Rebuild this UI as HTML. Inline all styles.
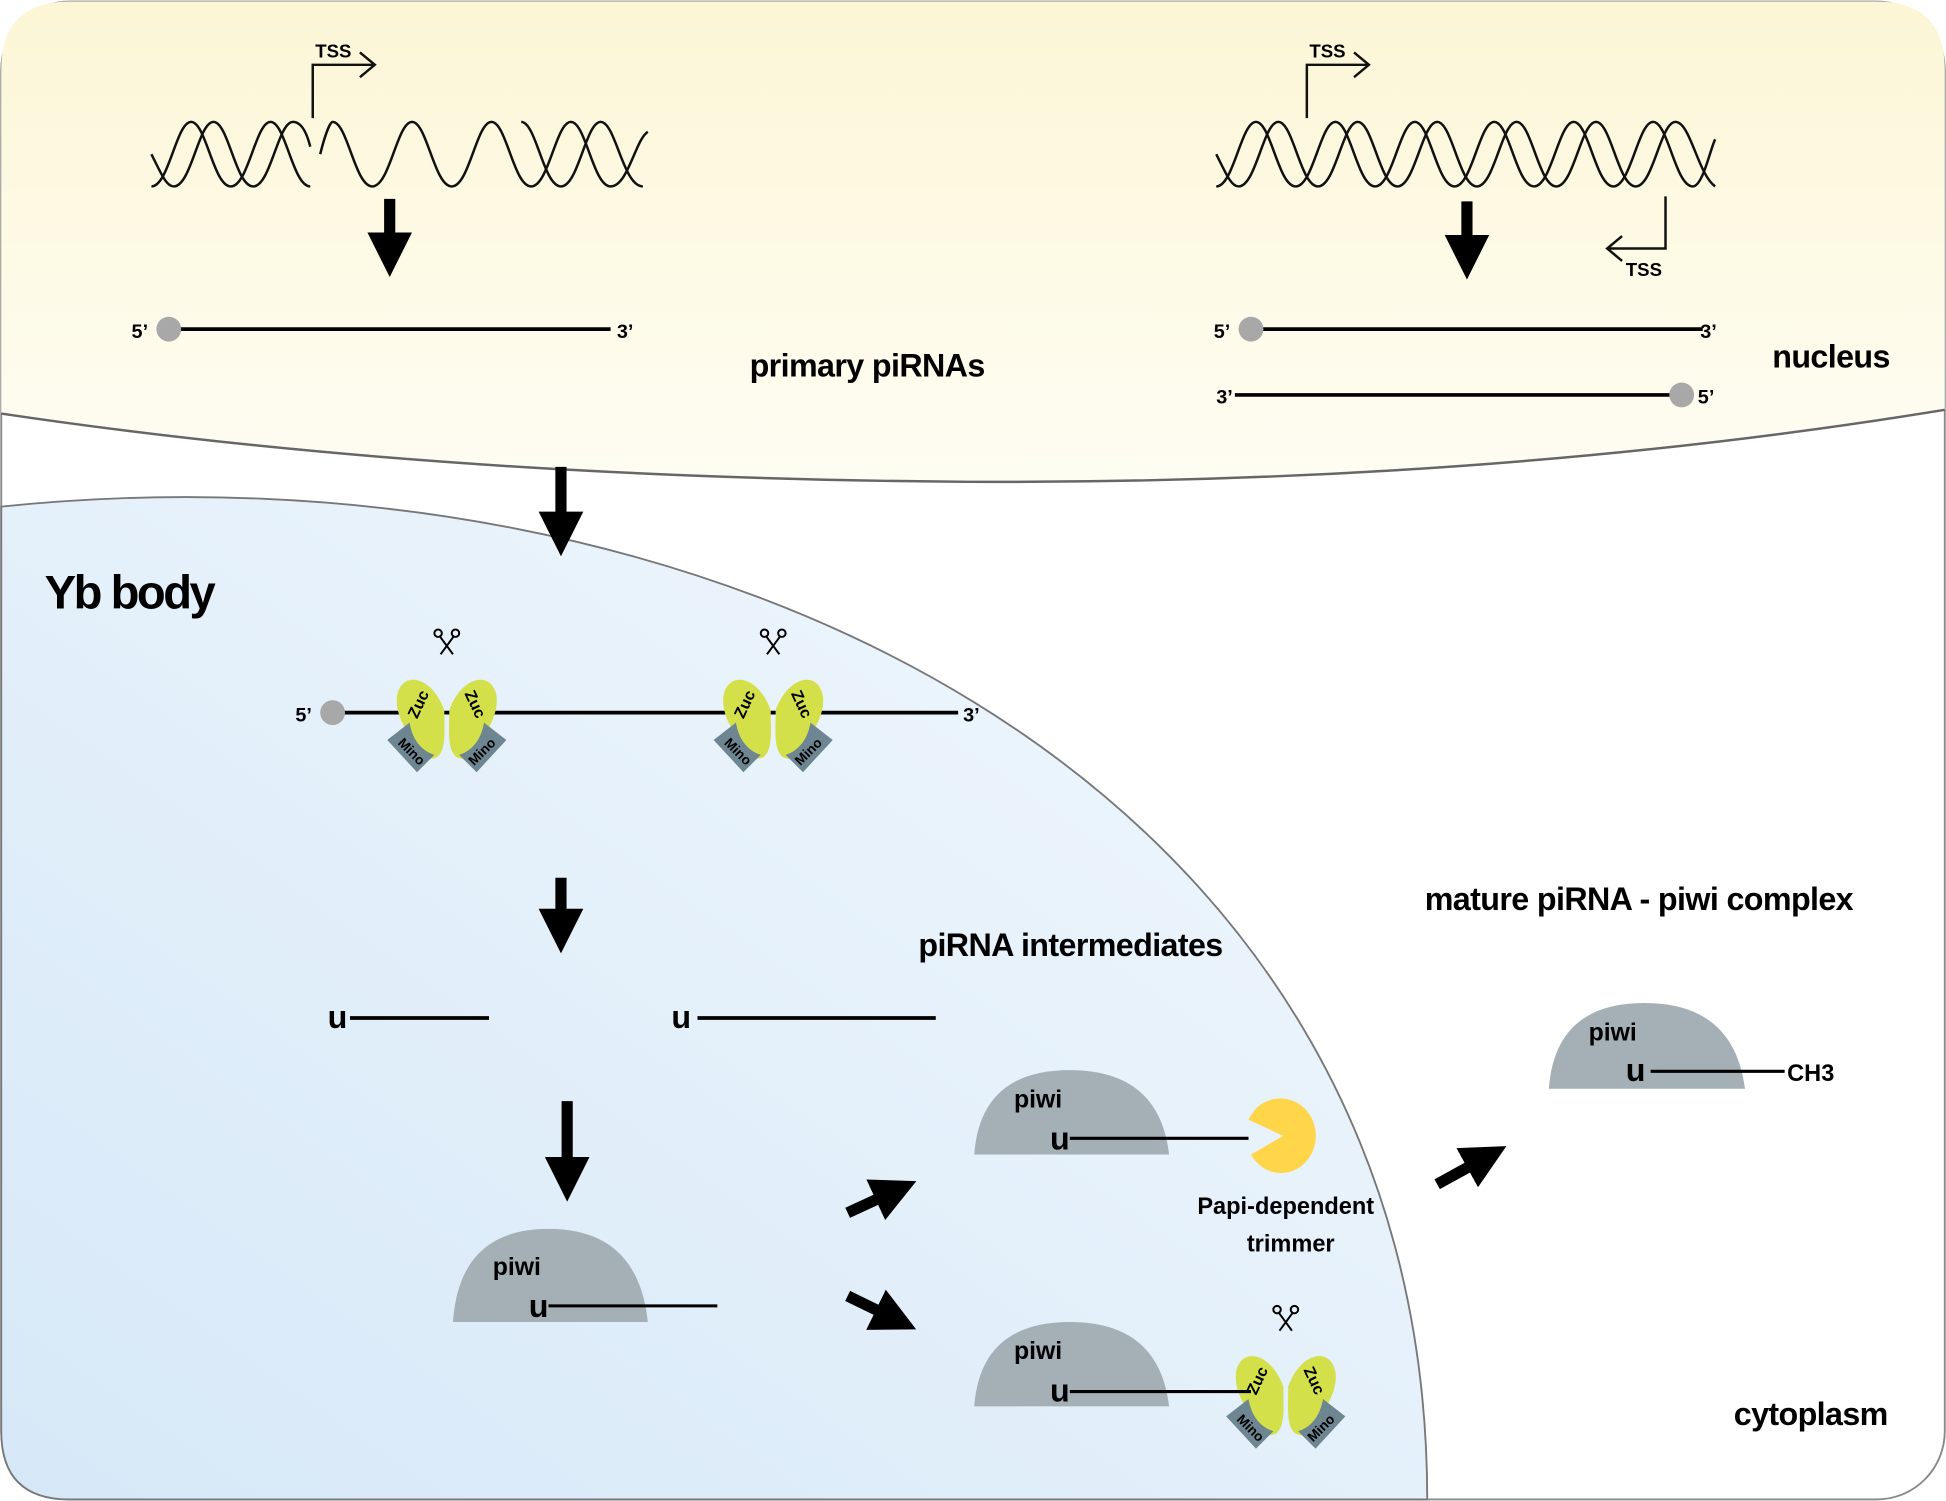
<!DOCTYPE html><html><head><style>html,body{margin:0;padding:0;background:#fff}svg{display:block}text{font-family:"Liberation Sans",Arial,sans-serif;font-weight:bold}</style></head><body>
<svg width="1946" height="1501" viewBox="0 0 1568 1209" xmlns="http://www.w3.org/2000/svg">
<defs>
<linearGradient id="yel" x1="0" y1="0" x2="0" y2="1"><stop offset="0" stop-color="#fcf6d6"/><stop offset="1" stop-color="#fefdf3"/></linearGradient>
<linearGradient id="blu" x1="1" y1="0" x2="0" y2="1"><stop offset="0" stop-color="#f2f8fd"/><stop offset="1" stop-color="#d6e8f8"/></linearGradient>
<g id="zm">
<path d="M-2,-2 C-12,-30 -36,-34 -40,-14 C-42,0 -34,12 -28,22 C-26,34 -18,40 -8,36 C0,30 -2,14 -2,-2Z" fill="#d4e04a"/>
<path d="M2,-2 C12,-30 36,-34 40,-14 C42,0 34,12 28,22 C26,34 18,40 8,36 C0,30 2,14 2,-2Z" fill="#d4e04a"/>
<text x="0" y="0" font-size="13" transform="translate(-19,-5) rotate(-65)" text-anchor="middle">Zuc</text>
<text x="0" y="0" font-size="13" transform="translate(19,-5) rotate(65)" text-anchor="middle">Zuc</text>
<path d="M-48,22 L-30,8 C-28,20 -22,30 -10,34 L-24,48 Z" fill="#6e8592"/>
<path d="M48,22 L30,8 C28,20 22,30 10,34 L24,48 Z" fill="#6e8592"/>
<text font-size="11" transform="translate(-31,34) rotate(45)" text-anchor="middle">Mino</text>
<text font-size="11" transform="translate(31,34) rotate(-45)" text-anchor="middle">Mino</text>
<g stroke="#000" stroke-width="1.6" fill="none"><path d="M-6,-62 L5,-47 M6,-62 L-5,-47"/><circle cx="-7" cy="-64" r="3"/><circle cx="7" cy="-64" r="3"/></g>
</g>
<marker id="ah" viewBox="0 0 10 10" refX="5" refY="5" markerWidth="4" markerHeight="4" orient="auto"><path d="M0,0 L10,5 L0,10Z" fill="#000"/></marker>
</defs>
<rect x="1" y="1" width="1566" height="1207" rx="55" fill="#fff" stroke="#888" stroke-width="1.5"/>
<path d="M1,333 L1,56 Q1,1 56,1 L1512,1 Q1567,1 1567,56 L1567,330 Q1200,390 780,388 Q350,385 1,333Z" fill="url(#yel)"/>
<path d="M1,333 Q350,385 780,388 Q1200,390 1567,330" fill="none" stroke="#666" stroke-width="2"/>
<path d="M1,408 C560,350 1150,620 1150,1208 L56,1208 Q1,1208 1,1153Z" fill="url(#blu)" stroke="#777" stroke-width="1.5"/>
<g fill="none" stroke="#111" stroke-width="2">
<path d="M122,124 C130,140 134,150 140,150 C154,150 160,98 172,98 C184,98 190,150 204,150 C218,150 224,98 236,98 C244,98 248,110 250,118 M258,124 C262,108 266,98 268,98 C280,98 286,150 300,150 C314,150 320,98 332,98 C344,98 350,150 364,150 C378,150 384,98 396,98 C408,98 414,150 428,150 C442,150 448,98 460,98 C472,98 478,150 492,150 C506,150 512,112 522,106"/>
<path d="M122,150 C136,150 142,98 154,98 C166,98 172,150 186,150 C200,150 206,98 218,98 C230,98 236,150 250,150 M420,98 C432,98 438,150 452,150 C466,150 472,98 484,98 C496,98 502,150 518,150"/>
<path d="M252,95 L252,52 L302,52 M290,42 L302,52 L290,62"/>
<path d="M980,124 C988,140 992,150 998,150 C1012,150 1018,98 1030,98 C1042,98 1048,150 1062,150 C1076,150 1082,98 1094,98 C1106,98 1112,150 1126,150 C1140,150 1146,98 1158,98 C1170,98 1176,150 1190,150 C1204,150 1210,98 1222,98 C1234,98 1240,150 1254,150 C1268,150 1274,98 1286,98 C1298,98 1304,150 1318,150 C1332,150 1338,98 1350,98 C1362,98 1368,140 1382,150"/>
<path d="M980,150 C994,150 1000,98 1012,98 C1024,98 1030,150 1044,150 C1058,150 1064,98 1076,98 C1088,98 1094,150 1108,150 C1122,150 1128,98 1140,98 C1152,98 1158,150 1172,150 C1186,150 1192,98 1204,98 C1216,98 1222,150 1236,150 C1250,150 1256,98 1268,98 C1280,98 1286,150 1300,150 C1314,150 1320,98 1332,98 C1344,98 1350,150 1364,150 C1372,150 1378,120 1382,112"/>
<path d="M1053,95 L1053,52 L1103,52 M1091,42 L1103,52 L1091,62"/>
<path d="M1342,158 L1342,200 L1295,200 M1307,190 L1295,200 L1307,210"/>
</g>
<g font-size="15"><text x="254" y="46">TSS</text><text x="1055" y="46">TSS</text><text x="1310" y="222">TSS</text></g>
<g stroke="#000" stroke-width="9" marker-end="url(#ah)">
<line x1="314" y1="160" x2="314" y2="205"/><line x1="1182" y1="162" x2="1182" y2="207"/>
<line x1="452" y1="376" x2="452" y2="430"/><line x1="452" y1="707" x2="452" y2="750"/><line x1="457" y1="887" x2="457" y2="950"/>
<line x1="683" y1="977" x2="722" y2="959"/><line x1="683" y1="1044" x2="722" y2="1063"/><line x1="1158" y1="954" x2="1198" y2="932"/>
</g>
<g stroke="#000" stroke-width="3">
<line x1="136" y1="265" x2="492" y2="265"/><line x1="1008" y1="265" x2="1372" y2="265"/><line x1="995" y1="318" x2="1355" y2="318"/>
<line x1="268" y1="574" x2="772" y2="574"/>
<line x1="282" y1="820" x2="394" y2="820"/><line x1="562" y1="820" x2="754" y2="820"/>
</g>
<g fill="#a8a8a8"><circle cx="136" cy="265" r="10"/><circle cx="1008" cy="265" r="10"/><circle cx="1355" cy="318" r="10"/><circle cx="268" cy="574" r="10"/></g>
<g font-size="16"><text x="106" y="272">5’</text><text x="497" y="272">3’</text><text x="978" y="272">5’</text><text x="1370" y="272">3’</text><text x="980" y="325">3’</text><text x="1368" y="325">5’</text><text x="238" y="581">5’</text><text x="776" y="581">3’</text></g>
<g font-size="26" letter-spacing="-0.5"><text x="604" y="303">primary piRNAs</text><text x="1428" y="296">nucleus</text><text x="740" y="770">piRNA intermediates</text><text x="1148" y="733">mature piRNA - piwi complex</text><text x="1397" y="1148">cytoplasm</text><text x="36" y="490" font-size="38" letter-spacing="-2">Yb body</text></g>
<use href="#zm" x="360" y="574"/><use href="#zm" x="623" y="574"/><use href="#zm" x="1036" y="1119"/>
<g font-size="26"><text x="264" y="828">u</text><text x="541" y="828">u</text></g>
<g fill="#a4b0b6">
<path d="M365,1065 Q370,990 442,990 Q514,990 522,1065Z"/>
<path d="M785,930 Q790,862 862,862 Q934,862 942,930Z"/>
<path d="M785,1133 Q790,1065 862,1065 Q934,1065 942,1133Z"/>
<path d="M1248,877 Q1253,808 1325,808 Q1397,808 1406,877Z"/>
</g>
<g stroke="#000" stroke-width="2.5"><line x1="442" y1="1052" x2="578" y2="1052"/><line x1="862" y1="917" x2="1006" y2="917"/><line x1="862" y1="1121" x2="1008" y2="1121"/><line x1="1330" y1="863" x2="1438" y2="863"/></g>
<g font-size="20"><text x="397" y="1027">piwi</text><text x="817" y="892">piwi</text><text x="817" y="1095">piwi</text><text x="1280" y="838">piwi</text><text x="1440" y="871" font-size="19">CH3</text></g>
<g font-size="26"><text x="426" y="1061">u</text><text x="846" y="926">u</text><text x="846" y="1129">u</text><text x="1310" y="871">u</text></g>
<path d="M1034,885 A28,30 0 1 1 1008,930 L1034,915 L1006,902 A28,30 0 0 1 1034,885Z" fill="#ffd54a"/>
<g font-size="19" text-anchor="middle"><text x="1036" y="978">Papi-dependent</text><text x="1040" y="1008">trimmer</text></g>
</svg>
</body></html>
